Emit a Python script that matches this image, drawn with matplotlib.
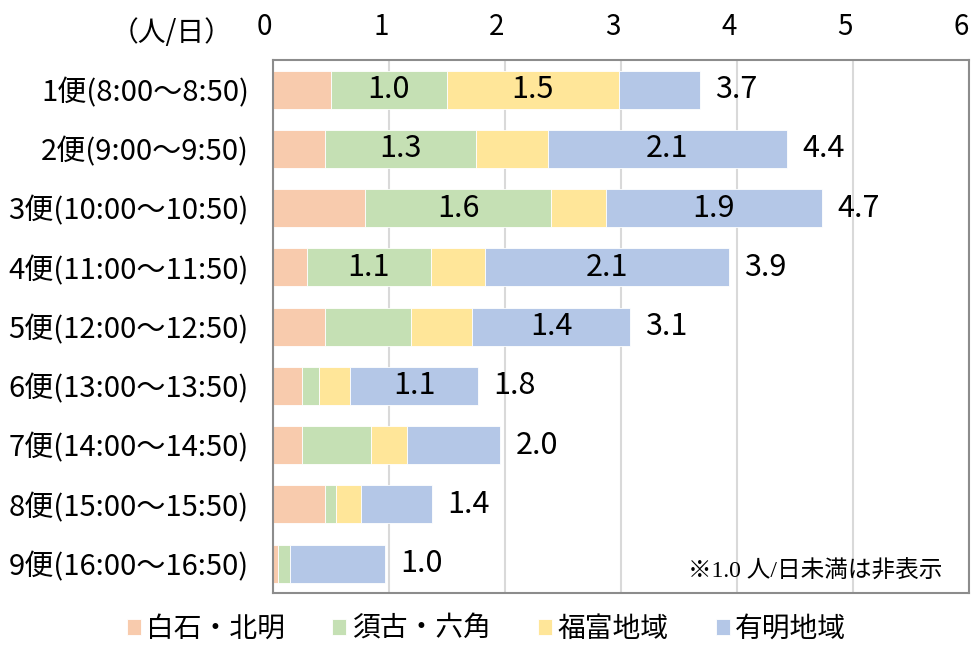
import numpy as np
import matplotlib.pyplot as plt
from matplotlib.transforms import ScaledTranslation

plt.rcParams['font.family'] = ['Noto Sans CJK JP', 'DejaVu Sans']

# 便ごとの地域別利用者数（人/日）
routes = ['1便(8:00～8:50)', '2便(9:00～9:50)', '3便(10:00～10:50)',
          '4便(11:00～11:50)', '5便(12:00～12:50)', '6便(13:00～13:50)',
          '7便(14:00～14:50)', '8便(15:00～15:50)', '9便(16:00～16:50)']
shiroishi = [0.50, 0.45, 0.80, 0.30, 0.45, 0.25, 0.25, 0.45, 0.05]
suko = [1.00, 1.30, 1.60, 1.06, 0.74, 0.15, 0.60, 0.10, 0.10]
fukudomi = [1.48, 0.62, 0.47, 0.47, 0.53, 0.27, 0.31, 0.21, 0.00]
ariake = [0.70, 2.06, 1.86, 2.10, 1.36, 1.10, 0.80, 0.61, 0.82]

names = ['白石・北明', '須古・六角', '福富地域', '有明地域']
colors = ['#F8CBAD', '#C5E0B4', '#FFE699', '#B4C7E7']

fig = plt.figure(figsize=(9.73, 6.46), dpi=100)
ax = fig.add_axes([0.2801, 0.0816, 0.7163, 0.8255])

y = np.arange(len(routes))
left = np.zeros(len(routes))
for vals, name, c in zip([shiroishi, suko, fukudomi, ariake], names, colors):
    vals = np.array(vals)
    bars = ax.barh(y, vals, left=left, height=0.64, color=c,
                   edgecolor='white', linewidth=0.6, label=name, zorder=2)
    # 1.0人/日未満は表示しない
    labels = [f'{v:.1f}' if v >= 1.0 else '' for v in vals]
    ax.bar_label(bars, labels=labels, label_type='center', fontsize=22)
    left += vals

ax.bar_label(bars, labels=[f'{t:.1f}' for t in left], padding=11, fontsize=22)

ax.set_xlim(0, 6)
ax.set_ylim(len(routes) - 0.5, -0.5)
ax.xaxis.tick_top()
ax.set_xticks(range(7))
ax.set_yticks(y, routes)
ax.tick_params(axis='x', length=0, pad=13, labelsize=20)
ax.tick_params(axis='y', length=0, pad=17, labelsize=21)
for lbl in ax.get_xticklabels():
    lbl.set_transform(lbl.get_transform() + ScaledTranslation(-8 / 100, 0, fig.dpi_scale_trans))

ax.grid(axis='x', color='#d9d9d9', linewidth=1.5, zorder=0)
ax.set_axisbelow(True)
for s in ax.spines.values():
    s.set_color('#8c8c8c')
    s.set_linewidth(1.5)

fig.text(172 / 973, 1 - 33 / 646, '（人/日）', ha='center', va='center', fontsize=20)
ax.text(0.961, 0.04, '※1.0 人/日未満は非表示', transform=ax.transAxes,
        ha='right', va='center', fontsize=17,
        family=['Liberation Serif', 'Noto Sans CJK JP'])

fig.legend(loc='center', bbox_to_anchor=(0.5, 1 - 629 / 646), ncol=4, frameon=False,
           fontsize=20, handlelength=0.5, handleheight=0.5, handletextpad=0.2,
           columnspacing=1.7, borderpad=0.1)

fig.savefig('out.png', dpi=100)
